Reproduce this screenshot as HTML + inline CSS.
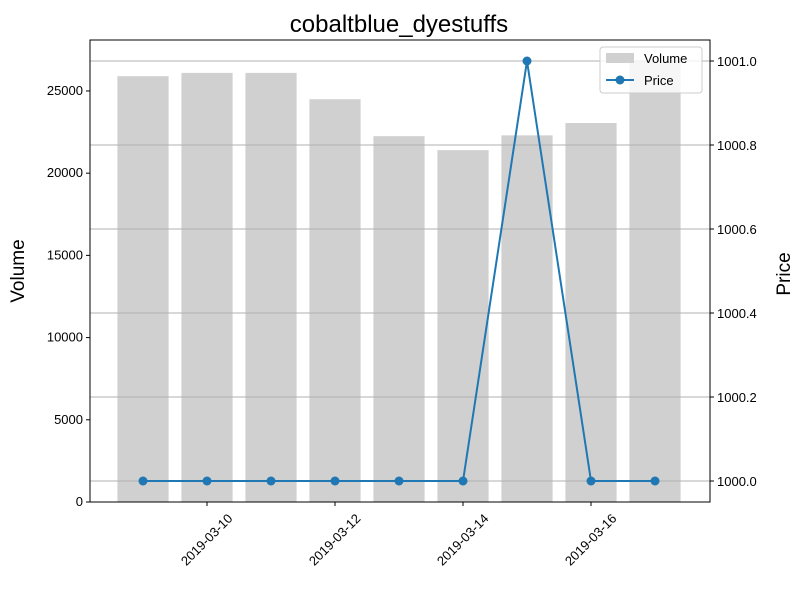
<!DOCTYPE html>
<html><head><meta charset="utf-8"><style>
body{margin:0;background:#fff;}
svg text{font-family:"Liberation Sans","DejaVu Sans",sans-serif;fill:#000;}
</style></head><body>
<svg id="chart" width="802" height="588" xmlns="http://www.w3.org/2000/svg">
<text x="399" y="32" font-size="24" text-anchor="middle">cobaltblue_dyestuffs</text>
<g id="bars"></g><g id="grid"></g><g id="line"></g><g id="axes"></g>
<text transform="translate(24,271) rotate(-90)" font-size="19" text-anchor="middle">Volume</text>
<text transform="translate(790,274) rotate(-90)" font-size="19" text-anchor="middle">Price</text>
<g>
<rect x="600" y="47" width="102" height="46" rx="3" fill="#fff" fill-opacity="0.8" stroke="#ccc"/>
<rect x="606" y="53" width="28" height="10" fill="#d0d0d0"/>
<text x="644" y="63" font-size="13">Volume</text>
<line x1="606" y1="80" x2="634" y2="80" stroke="#1f77b4" stroke-width="2"/>
<circle cx="620" cy="80" r="4.5" fill="#1f77b4"/>
<text x="644" y="85" font-size="13">Price</text>
</g>
</svg>
<script>
const dates=["2019-03-09","2019-03-10","2019-03-11","2019-03-12","2019-03-13","2019-03-14","2019-03-15","2019-03-16","2019-03-17"];
const volumes=[25900,26100,26100,24500,22250,21400,22300,23050,26800];
const prices=[1000,1000,1000,1000,1000,1000,1001,1000,1000];
const volTicks=[0,5000,10000,15000,20000,25000];
const priceTicks=[1000.0,1000.2,1000.4,1000.6,1000.8,1001.0];
const dateTicks=["2019-03-10","2019-03-12","2019-03-14","2019-03-16"];
const L=90,R=710,T=40,B=502,NS="http://www.w3.org/2000/svg";
const xs=i=>143+(i)*64;
const xd=d=>xs(dates.indexOf(d));
const yv=v=>B-(v/28100)*(B-T);
const yp=p=>481-(p-1000)*420;
function mk(tag,at,parent){const e=document.createElementNS(NS,tag);for(const k in at)e.setAttribute(k,at[k]);document.getElementById(parent).appendChild(e);return e;}
volumes.forEach((v,i)=>{const r=mk('rect',{x:xs(i)-25.6,y:yv(v),width:51.2,height:B-yv(v),fill:'#d0d0d0'},'bars');

});
priceTicks.forEach(p=>{const l=mk('line',{x1:L,x2:R,y1:yp(p),y2:yp(p),stroke:'#b0b0b0','stroke-width':1},'grid');

});
const pl=mk('polyline',{points:prices.map((p,i)=>xs(i)+','+yp(p)).join(' '),fill:'none',stroke:'#1f77b4','stroke-width':2},'line');


prices.forEach((p,i)=>{const c=mk('circle',{cx:xs(i),cy:yp(p),r:4.5,fill:'#1f77b4'},'line');

});
const fr=mk('rect',{x:L,y:T,width:R-L,height:B-T,fill:'none',stroke:'#000','stroke-width':1},'axes');


volTicks.forEach(v=>{mk('line',{x1:L-4,x2:L,y1:yv(v),y2:yv(v),stroke:'#000'},'axes');
const t=mk('text',{x:L-7,y:yv(v)+4,'font-size':13,'text-anchor':'end'},'axes');t.textContent=v;

});
priceTicks.forEach(p=>{mk('line',{x1:R,x2:R+4,y1:yp(p),y2:yp(p),stroke:'#000'},'axes');
const t=mk('text',{x:R+7,y:yp(p)+5,'font-size':13},'axes');t.textContent=p.toFixed(1);

});
dateTicks.forEach(d=>{const x=xd(d);mk('line',{x1:x,x2:x,y1:B,y2:B+4,stroke:'#000'},'axes');
const t=mk('text',{x:x,y:B+42,'font-size':13,'text-anchor':'middle',transform:`rotate(-45 ${x} ${B+38})`},'axes');t.textContent=d;

});
</script>
</body></html>
